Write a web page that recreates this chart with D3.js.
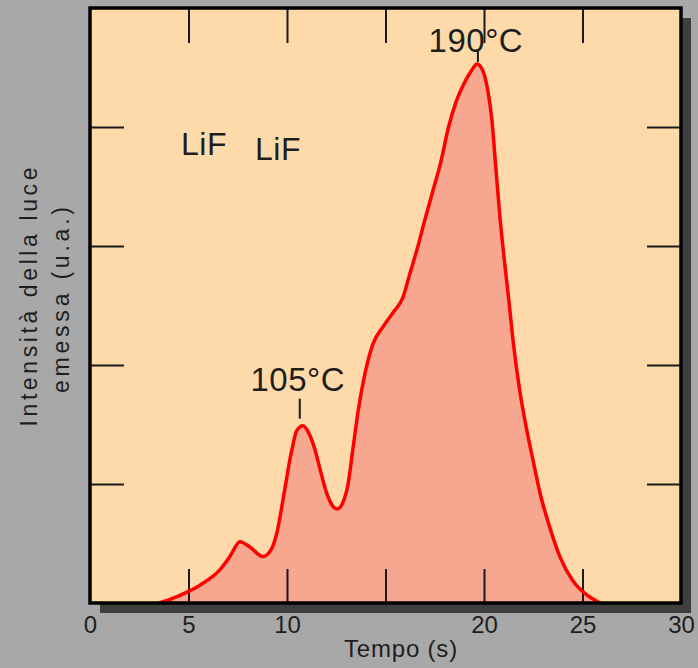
<!DOCTYPE html>
<html><head><meta charset="utf-8">
<script src="https://cdn.jsdelivr.net/npm/d3@7"></script>
<style>
html,body{margin:0;padding:0;background:#a8a8a8;}
svg{display:block;}
text{font-family:"Liberation Sans",Arial,Helvetica,sans-serif;fill:#1e1e1e;}
</style></head>
<body>
<svg id="chart" width="698" height="668"></svg>
<script>
// ---- data ----
const xTickLabels = [0, 5, 10, 20, 25, 30];
const innerXTicks = [5, 10, 15, 20, 25];
const innerYTicks = [1, 2, 3, 4];
const times = [3.5, 4.06, 5.03, 5.58, 6.6, 7.1, 7.61, 8.12, 8.78, 9.2, 9.5, 9.8, 10.2, 10.5, 10.8, 11.1, 11.4, 11.7, 12.0, 12.3, 12.55, 12.85, 13.1, 13.35, 13.6, 13.96, 14.37, 14.87, 15.38, 15.89, 16.24, 16.6, 17.0, 17.4, 17.8, 18.2, 18.6, 19.0, 19.35, 19.64, 19.95, 20.2, 20.4, 20.6, 20.8, 21.0, 21.25, 21.5, 21.8, 22.2, 22.5, 22.85, 23.35, 23.85, 24.5, 25.2, 25.9];
const intensity = [0, 0.03, 0.1, 0.15, 0.28, 0.39, 0.515, 0.47, 0.39, 0.45, 0.6, 0.87, 1.25, 1.45, 1.49, 1.43, 1.3, 1.11, 0.93, 0.82, 0.79, 0.85, 1.0, 1.3, 1.6, 1.93, 2.18, 2.32, 2.44, 2.57, 2.77, 2.97, 3.22, 3.46, 3.70, 4.0, 4.22, 4.37, 4.47, 4.53, 4.47, 4.3, 4.06, 3.66, 3.26, 2.93, 2.56, 2.17, 1.8, 1.43, 1.19, 0.92, 0.63, 0.39, 0.19, 0.07, 0];
const peakLabels = ["105°C", "190°C"];
const peakTimes = [10.8, 19.64];
const sampleLabels = ["LiF", "LiF"];
const xTitle = "Tempo  (s)";
const yTitle = ["Intensità  della  luce", "emessa  (u.a.)"];

// ---- layout ----
const L = 90, R = 681, T = 8, B = 603;
const svg = d3.select("#chart");
const x = d3.scaleLinear().domain([0, 30]).range([L, R]);
const y = d3.scaleLinear().domain([0, 5]).range([B, T]);
const data = times.map((t, i) => ({t, v: intensity[i]}));

// shadow
svg.append("rect").attr("x", L + 10).attr("y", T + 10).attr("width", R - L).attr("height", B - T).attr("fill", "#3f3f3f");
// plot background
svg.append("rect").attr("x", L).attr("y", T).attr("width", R - L).attr("height", B - T).attr("fill", "#fedaab");

// area + line
const curve = d3.curveMonotoneX;
const area = d3.area().x(d => x(d.t)).y0(y(0)).y1(d => y(d.v)).curve(curve);
const line = d3.line().x(d => x(d.t)).y(d => y(d.v)).curve(curve);
svg.append("path").datum(data).attr("d", area).attr("fill", "#f7a68f");

// inner ticks
const tickStyle = g => { g.select(".domain").remove(); g.selectAll(".tick line").attr("stroke", "#1a1a1a").attr("stroke-width", 2); g.selectAll("text").remove(); };
svg.append("g").attr("transform", `translate(0,${B})`).call(d3.axisBottom(x).tickValues(innerXTicks).tickSize(-34)).call(tickStyle);
svg.append("g").attr("transform", `translate(0,${T})`).call(d3.axisTop(x).tickValues(innerXTicks).tickSize(-35)).call(tickStyle);
svg.append("g").attr("transform", `translate(${L},0)`).call(d3.axisLeft(y).tickValues(innerYTicks).tickSize(-34)).call(tickStyle);
svg.append("g").attr("transform", `translate(${R},0)`).call(d3.axisRight(y).tickValues(innerYTicks).tickSize(-34)).call(tickStyle);

svg.append("path").datum(data).attr("d", line).attr("fill", "none").attr("stroke", "#ff0000").attr("stroke-width", 3.5).attr("stroke-linejoin", "round");

// border
svg.append("rect").attr("x", L).attr("y", T).attr("width", R - L).attr("height", B - T).attr("fill", "none").attr("stroke", "#000").attr("stroke-width", 3.5);

// x tick labels
const xa = svg.append("g").attr("transform", `translate(0,${B})`).call(d3.axisBottom(x).tickValues(xTickLabels).tickSize(0).tickPadding(13));
xa.select(".domain").remove();
xa.selectAll("text").attr("font-size", 24).attr("font-family", "Liberation Sans, Arial, sans-serif").attr("fill", "#1e1e1e");

// axis titles
svg.append("text").attr("x", 401).attr("y", 657).attr("text-anchor", "middle").attr("font-size", 24).attr("letter-spacing", 0.8).text(xTitle);
svg.append("text").attr("transform", "translate(37,297) rotate(-90)").attr("text-anchor", "middle").attr("font-size", 23).attr("textLength", 259).attr("lengthAdjust", "spacing").text(yTitle[0]);
svg.append("text").attr("transform", "translate(69,300) rotate(-90)").attr("text-anchor", "middle").attr("font-size", 23).attr("textLength", 186).attr("lengthAdjust", "spacing").text(yTitle[1]);

// peak annotations
const peakIdx = peakTimes.map(pt => times.indexOf(pt));
const offsets = [{dx: -3, tick0: 7, tick1: 27, text: 35}, {dx: 1, tick0: 2, tick1: 13, text: 12}];
peakIdx.forEach((idx, i) => {
  const px = x(times[idx]), py = y(intensity[idx]);
  svg.append("line").attr("x1", px + offsets[i].dx).attr("x2", px + offsets[i].dx).attr("y1", py - offsets[i].tick0).attr("y2", py - offsets[i].tick1).attr("stroke", "#1a1a1a").attr("stroke-width", 2);
  svg.append("text").attr("x", px + offsets[i].dx - 2).attr("y", py - offsets[i].text).attr("text-anchor", "middle").attr("font-size", 33).attr("letter-spacing", 0.5).text(peakLabels[i]);
});

// sample labels
svg.append("text").attr("x", 181).attr("y", 155).attr("font-size", 32).attr("letter-spacing", 0.5).text(sampleLabels[0]);
svg.append("text").attr("x", 255).attr("y", 160).attr("font-size", 32).attr("letter-spacing", 0.5).text(sampleLabels[1]);
</script>
</body></html>
